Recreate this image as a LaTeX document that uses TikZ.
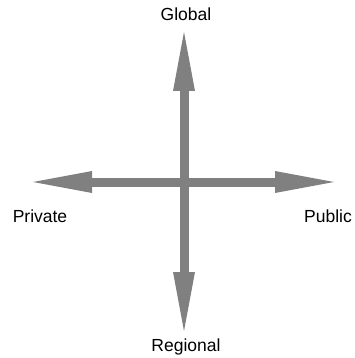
\documentclass[tikz,border=0pt]{standalone}
\usepackage{fontspec}
\setmainfont{Liberation Sans}
\usetikzlibrary{arrows.meta}

\tikzset{
  axis/.style={draw=gray, line width=9pt,
    {Triangle[width=19pt,length=66pt]}-{Triangle[width=19pt,length=66pt]}},
  lbl/.style={font=\fontsize{17.5}{20}\selectfont, inner sep=0pt}
}

\begin{document}
\begin{tikzpicture}[x=1pt,y=-1pt]
  \useasboundingbox (0,0) rectangle (355,358);

  \coordinate (T) at (184,25);
  \coordinate (B) at (184,338);
  \coordinate (L) at (26,182);
  \coordinate (R) at (341,182);

  \draw[axis] (L) -- (R);
  \draw[axis] (B) -- (T);

  \node[lbl] (global) at (186,14) {Global};
  \node[lbl] (private) at (40,216) {Private};
  \node[lbl] (public) at (328,216) {Public};
  \node[lbl] (regional) at (186,347) {Regional};
\end{tikzpicture}
\end{document}
